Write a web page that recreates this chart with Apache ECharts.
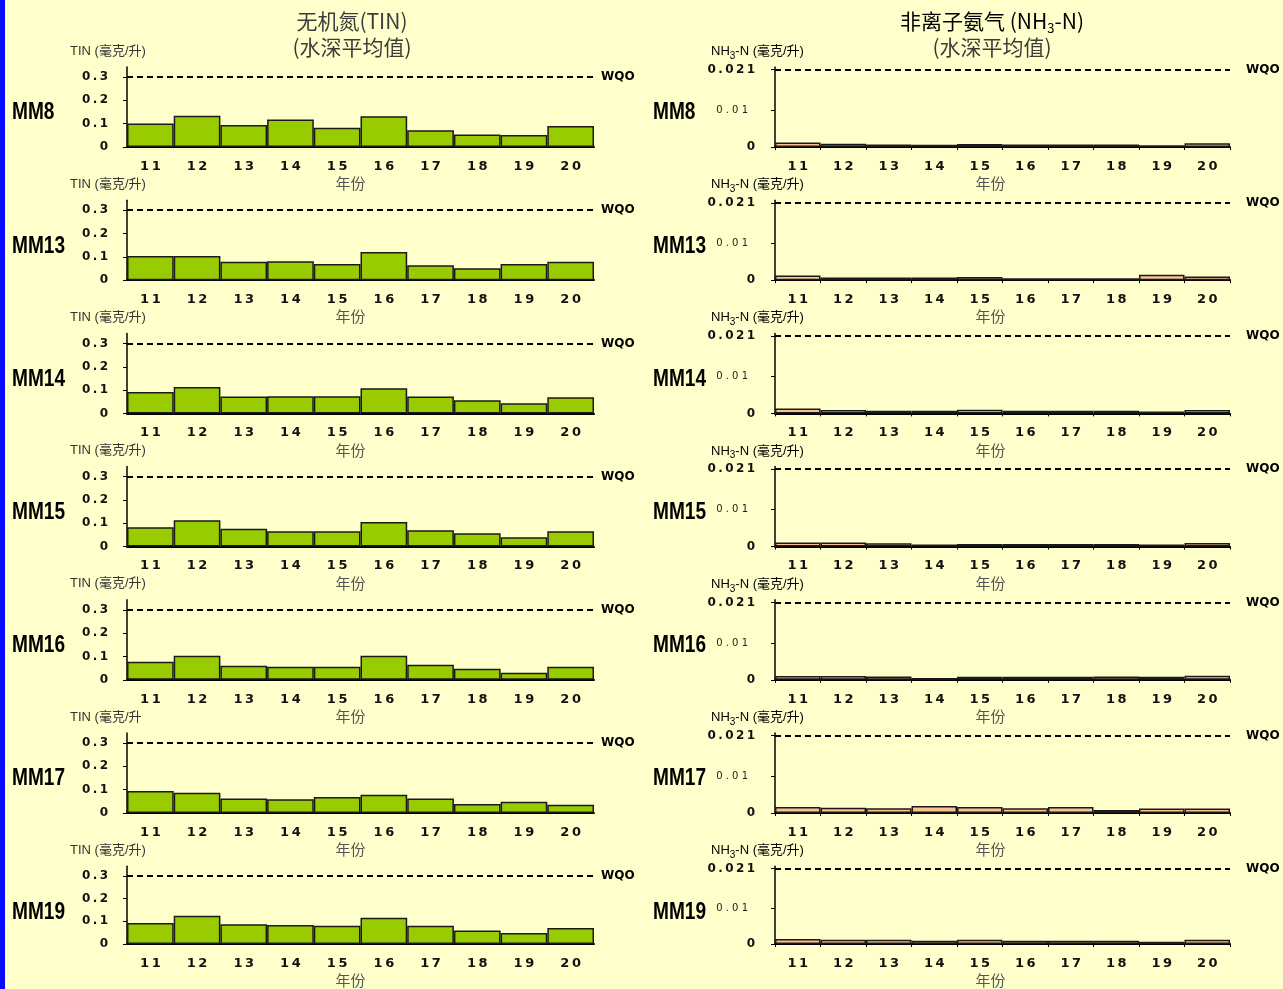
<!DOCTYPE html>
<html>
<head>
<meta charset="utf-8">
<title>无机氮(TIN) / 非离子氨气 (NH3-N)</title>
<script src="https://cdn.jsdelivr.net/npm/echarts@6/dist/echarts.min.js"></script>
<style>
  html, body { margin: 0; padding: 0; background: #FFFFCC; }
  #chart { width: 1283px; height: 989px; }
</style>
</head>
<body>
<div id="chart"></div>
<script>
// Years on the category axis (20xx, shown as two digits)
const years = ['11', '12', '13', '14', '15', '16', '17', '18', '19', '20'];
const stations = ['MM8', 'MM13', 'MM14', 'MM15', 'MM16', 'MM17', 'MM19'];

// Total inorganic nitrogen, depth-averaged (mg/L)
const tinMM8  = [0.101, 0.134, 0.094, 0.118, 0.082, 0.132, 0.072, 0.054, 0.051, 0.090];
const tinMM13 = [0.104, 0.104, 0.079, 0.081, 0.069, 0.121, 0.064, 0.051, 0.069, 0.079];
const tinMM14 = [0.092, 0.113, 0.072, 0.074, 0.074, 0.108, 0.072, 0.056, 0.043, 0.069];
const tinMM15 = [0.083, 0.113, 0.076, 0.066, 0.066, 0.106, 0.070, 0.057, 0.040, 0.066];
const tinMM16 = [0.077, 0.103, 0.060, 0.056, 0.056, 0.103, 0.064, 0.047, 0.030, 0.056];
const tinMM17 = [0.094, 0.087, 0.062, 0.059, 0.069, 0.078, 0.062, 0.039, 0.048, 0.035];
const tinMM19 = [0.093, 0.124, 0.087, 0.084, 0.080, 0.116, 0.080, 0.059, 0.049, 0.071];

// Unionised ammonia, depth-averaged (mg/L)
const nh3MM8  = [0.0012, 0.0009, 0.0007, 0.0006, 0.0008, 0.0007, 0.0007, 0.0007, 0.0005, 0.0010];
const nh3MM13 = [0.0013, 0.0007, 0.0007, 0.0007, 0.0009, 0.0005, 0.0005, 0.0005, 0.0015, 0.0010];
const nh3MM14 = [0.0013, 0.0009, 0.0007, 0.0007, 0.0010, 0.0007, 0.0007, 0.0007, 0.0005, 0.0009];
const nh3MM15 = [0.0011, 0.0011, 0.0009, 0.0006, 0.0007, 0.0007, 0.0007, 0.0007, 0.0006, 0.0010];
const nh3MM16 = [0.0010, 0.0010, 0.0009, 0.0005, 0.0008, 0.0008, 0.0008, 0.0009, 0.0008, 0.0011];
const nh3MM17 = [0.0016, 0.0014, 0.0013, 0.0019, 0.0016, 0.0013, 0.0016, 0.0008, 0.0012, 0.0012];
const nh3MM19 = [0.0014, 0.0012, 0.0012, 0.0009, 0.0012, 0.0009, 0.0009, 0.0009, 0.0006, 0.0012];

// Water quality objectives and tick values
const tinWQO = 0.3;
const nh3WQO = 0.021;
const tinTicks = [0, 0.1, 0.2, 0.3];
const nh3Ticks = [0, 0.01, 0.021];

// Y-axis unit captions per station (MM17's caption is printed without its closing bracket)
const tinUnits = ['TIN (毫克/升)', 'TIN (毫克/升)', 'TIN (毫克/升)', 'TIN (毫克/升)', 'TIN (毫克/升)', 'TIN (毫克/升', 'TIN (毫克/升)'];

const tinSeries = [tinMM8, tinMM13, tinMM14, tinMM15, tinMM16, tinMM17, tinMM19];
const nh3Series = [nh3MM8, nh3MM13, nh3MM14, nh3MM15, nh3MM16, nh3MM17, nh3MM19];

// ---- layout ----
const ROW0 = 147, ROW_STEP = 133.2, PLOT_H = 80;
const L_LEFT = 127, L_WIDTH = 467;
const R_LEFT = 775, R_WIDTH = 455;

const spaced = s => String(s).split('').join('\u2009');
const numFont = 'DejaVu Sans';
const cjkFont = 'Noto Sans CJK SC';
const sansFont = "'Liberation Sans', 'Noto Sans CJK SC'";

const grids = [], xAxes = [], yAxes = [], series = [], graphics = [];

graphics.push({ type: 'rect', left: 0, top: 0, shape: { width: 5, height: 989 }, style: { fill: '#0a0aff' } });

// panel titles
graphics.push({ type: 'text', x: 352, y: 21, style: { text: '无机氮(TIN)', font: '21px ' + cjkFont, fill: '#3c3c3c', align: 'center', verticalAlign: 'middle' } });
graphics.push({ type: 'text', x: 352, y: 47, style: { text: '(水深平均值)', font: '21px ' + cjkFont, fill: '#3c3c3c', align: 'center', verticalAlign: 'middle' } });
graphics.push({ type: 'text', x: 992, y: 11, style: {
  text: '{n|非离子氨气 (NH}{s|3}{n|-N)}', align: 'center', verticalAlign: 'top',
  rich: {
    n: { fontSize: 21, fontFamily: cjkFont, color: '#3c3c3c', verticalAlign: 'top', lineHeight: 23 },
    s: { fontSize: 13, fontFamily: cjkFont, color: '#3c3c3c', verticalAlign: 'top', lineHeight: 14, padding: [11, 0, 0, 0] }
  } } });
graphics.push({ type: 'text', x: 992, y: 47, style: { text: '(水深平均值)', font: '21px ' + cjkFont, fill: '#3c3c3c', align: 'center', verticalAlign: 'middle' } });

// dashed objective line with its "WQO" tag at the right end
function markLineFor(value, gap) {
  return {
    symbol: 'none', silent: true, precision: 4,
    lineStyle: { type: [6, 4], color: '#000', width: 2 },
    label: { position: 'end', formatter: 'WQO', fontFamily: numFont, fontWeight: 'bold', fontSize: 12, color: '#000', distance: gap },
    data: [{ yAxis: value }]
  };
}

const xLabel = { margin: 13, fontSize: 13, fontWeight: 'bold', fontFamily: numFont, color: '#111', formatter: spaced };

stations.forEach((st, i) => {
  const zero = ROW0 + i * ROW_STEP;
  const top = zero - PLOT_H;

  // ---- TIN panel (left) ----
  const gl = grids.length;
  grids.push({ left: L_LEFT, top: top, width: L_WIDTH, height: PLOT_H });
  xAxes.push({
    type: 'category', gridIndex: gl, data: years,
    axisLine: { lineStyle: { color: '#000', width: 2 } },
    axisTick: { show: false },
    axisLabel: xLabel,
    name: '年份', nameLocation: 'middle', nameGap: 29,
    nameTextStyle: { fontSize: 15, fontFamily: cjkFont, color: '#555', padding: [0, 20, 0, 0] }
  });
  yAxes.push({
    type: 'value', gridIndex: gl, min: 0, max: 0.343,
    splitLine: { show: false },
    axisLine: { show: true, lineStyle: { color: '#000', width: 1.5 } },
    axisTick: { show: true, length: 4, customValues: tinTicks, lineStyle: { color: '#000' } },
    axisLabel: { customValues: tinTicks, margin: 19, fontSize: 12, fontWeight: 'bold', fontFamily: numFont, color: '#111',
      formatter: v => spaced(+v.toFixed(3)) }
  });
  series.push({
    type: 'bar', xAxisIndex: gl, yAxisIndex: gl, data: tinSeries[i],
    barCategoryGap: '0%',
    itemStyle: { color: '#99CC00', borderColor: '#1a1a1a', borderWidth: 1.5 },
    markLine: markLineFor(tinWQO, 7)
  });

  // ---- NH3-N panel (right) ----
  const gr = grids.length;
  grids.push({ left: R_LEFT, top: top, width: R_WIDTH, height: PLOT_H });
  xAxes.push({
    type: 'category', gridIndex: gr, data: years,
    axisLine: { lineStyle: { color: '#000', width: 2 } },
    axisTick: { show: true, length: 3, lineStyle: { color: '#000' } },
    axisLabel: xLabel,
    name: '年份', nameLocation: 'middle', nameGap: 29,
    nameTextStyle: { fontSize: 15, fontFamily: cjkFont, color: '#555', padding: [0, 24, 0, 0] }
  });
  yAxes.push({
    type: 'value', gridIndex: gr, min: 0, max: 0.0217,
    splitLine: { show: false },
    axisLine: { show: true, lineStyle: { color: '#000', width: 1.5 } },
    axisTick: { show: true, length: 4, customValues: nh3Ticks, lineStyle: { color: '#000' } },
    axisLabel: { customValues: nh3Ticks, margin: 20, color: '#111',
      formatter: v => (Math.abs(v - 0.01) < 1e-9 ? '{s|0 . 0 1}' : '{b|' + spaced(+v.toFixed(4)) + '}'),
      rich: {
        b: { fontSize: 12, fontWeight: 'bold', fontFamily: numFont, color: '#111' },
        s: { fontSize: 10, fontFamily: numFont, color: '#222', padding: [0, 7, 0, 0] }
      } }
  });
  series.push({
    type: 'bar', xAxisIndex: gr, yAxisIndex: gr, data: nh3Series[i],
    barCategoryGap: '0%',
    itemStyle: { color: '#FBC28F', borderColor: '#1a1a1a', borderWidth: 1.5 },
    markLine: markLineFor(nh3WQO, 16)
  });

  // station labels (condensed bold)
  [12, 653].forEach(px => {
    graphics.push({ type: 'text', x: px, y: zero - 34, scaleX: 0.83,
      style: { text: st, font: 'bold 23px ' + sansFont, fill: '#000', verticalAlign: 'middle' } });
  });

  // axis unit captions
  graphics.push({ type: 'text', x: 70, y: zero - 96, style: { text: tinUnits[i], font: '13px ' + sansFont, fill: '#333', verticalAlign: 'middle' } });
  graphics.push({ type: 'text', x: 711, y: zero - 102, style: {
    text: '{n|NH}{s|3}{n|-N (毫克/升)}', verticalAlign: 'top',
    rich: {
      n: { fontSize: 13, fontFamily: sansFont, color: '#333', verticalAlign: 'top', lineHeight: 15 },
      s: { fontSize: 10, fontFamily: sansFont, color: '#333', verticalAlign: 'top', lineHeight: 11, padding: [6, 0, 0, 0] }
    } } });
});

const chart = echarts.init(document.getElementById('chart'), null, { renderer: 'canvas' });
chart.setOption({
  backgroundColor: '#FFFFCC',
  animation: false,
  grid: grids,
  xAxis: xAxes,
  yAxis: yAxes,
  series: series,
  graphic: graphics
});
</script>
</body>
</html>
